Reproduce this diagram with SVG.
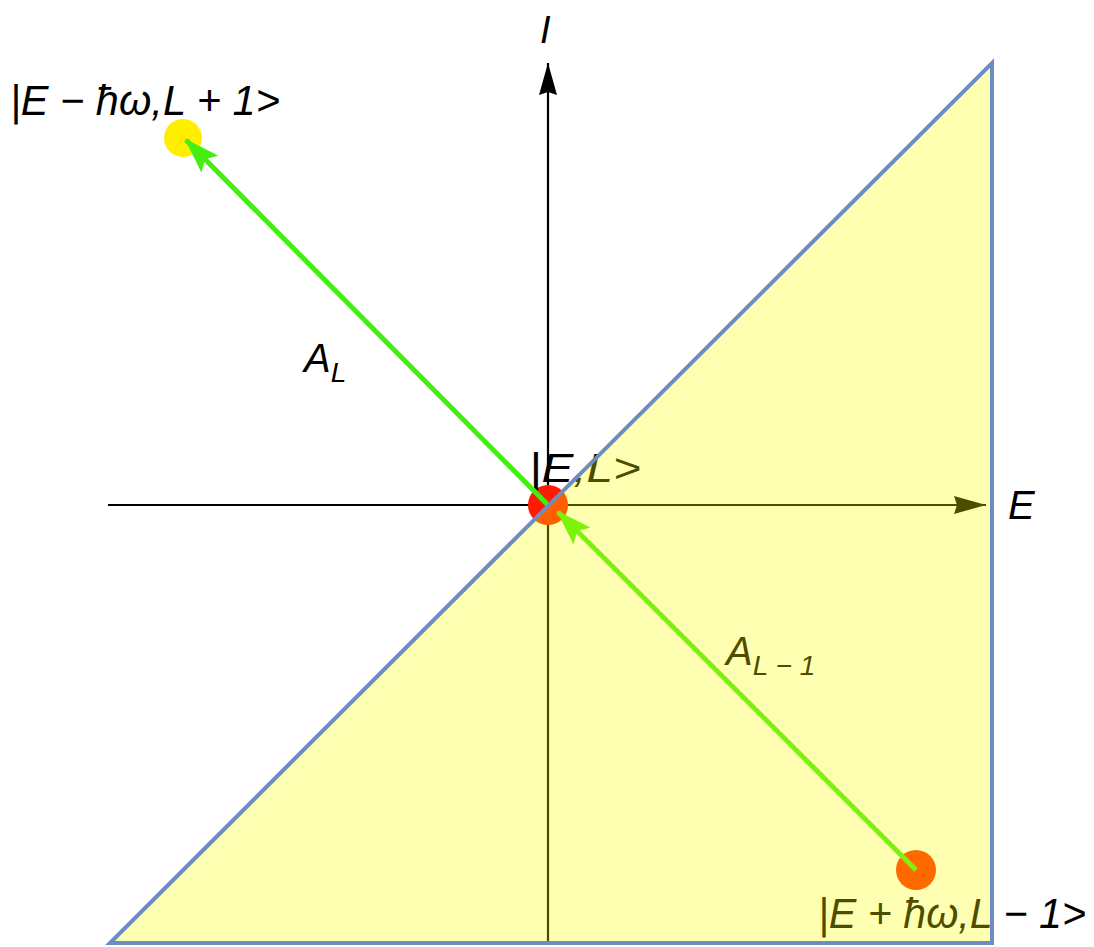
<svg xmlns="http://www.w3.org/2000/svg" width="1094" height="947" viewBox="0 0 1094 947">
<style>
.ax{stroke:#000;stroke-width:2.2;fill:none}
.lbl{font-family:"Liberation Sans",Arial,sans-serif;font-style:italic;fill:#000}
.g{stroke:#44ee11;stroke-width:5;fill:none}
</style>
<defs>
<marker id="axh2" viewBox="0 0 32 20" refX="32" refY="10" markerWidth="32" markerHeight="20" markerUnits="userSpaceOnUse" orient="auto">
<path d="M0,1 L32,10 L0,19 L3,10 Z" fill="#000"/>
</marker>
<marker id="gh" viewBox="0 0 36 24" refX="34" refY="12" markerWidth="36" markerHeight="24" markerUnits="userSpaceOnUse" orient="auto">
<path d="M0,0 L36,12 L0,24 L7,12 Z" fill="#44ee11"/>
</marker>
</defs>
<rect width="1094" height="947" fill="#fff"/>
<g id="axes">
<line class="ax" x1="108" y1="505" x2="986" y2="505" marker-end="url(#axh2)"/>
<line class="ax" x1="548" y1="945" x2="548" y2="63" marker-end="url(#axh2)"/>
<text class="lbl" x="540" y="43" font-size="38">I</text>
<text class="lbl" x="1008" y="519" font-size="40">E</text>
</g>
<g id="node-center">
<circle cx="548" cy="505" r="20" fill="#ff1a00"/>
<text class="lbl" x="529" y="482" font-size="40" textLength="112" lengthAdjust="spacingAndGlyphs">|E,L&gt;</text>
</g>
<g id="node-minus">
<circle cx="183" cy="138" r="19" fill="#ffee00"/>
<text class="lbl" x="10" y="115" font-size="42" textLength="270" lengthAdjust="spacingAndGlyphs">|E − ħω,L + 1&gt;</text>
</g>
<g id="node-plus">
<circle cx="916" cy="870" r="20" fill="#ff2a00"/>
<text class="lbl" x="818" y="928" font-size="42" textLength="268" lengthAdjust="spacingAndGlyphs">|E + ħω,L − 1&gt;</text>
</g>
<g id="connectors">
<line class="g" x1="548" y1="505" x2="186" y2="140" marker-end="url(#gh)"/>
<line class="g" x1="916" y1="870" x2="558" y2="512" marker-end="url(#gh)"/>
<text class="lbl" x="304" y="372" font-size="40">A<tspan font-size="28" dy="10">L</tspan></text>
<text class="lbl" x="726" y="665" font-size="40">A<tspan font-size="28" dy="10">L − 1</tspan></text>
</g>
<g id="region">
<polygon points="110,943 992,63 992,943" fill="#ffff00" fill-opacity="0.3" stroke="#6c8cc4" stroke-width="4" stroke-linejoin="miter"/>
</g>
</svg>
